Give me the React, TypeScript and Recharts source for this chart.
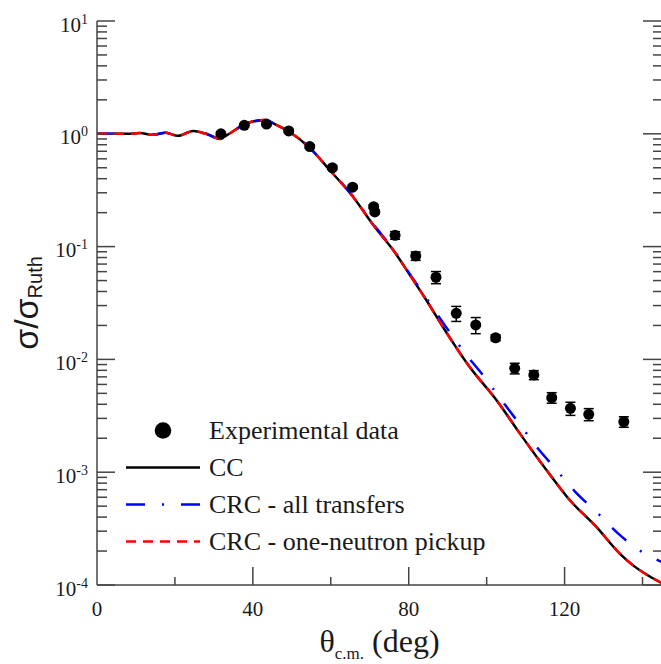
import React from 'react';
import { ComposedChart, Line, Scatter, XAxis, YAxis, ErrorBar, Legend } from 'recharts';

// ---- data ----
const expAngles = [31.8, 37.8, 43.5, 49.2, 54.6, 60.4, 65.6, 71.0, 71.3, 76.5, 81.8, 87.0, 92.2, 97.2, 102.3, 107.2, 112.1, 116.7, 121.5, 126.2, 135.2];
const expValues = [1.0, 1.19, 1.22, 1.06, 0.77, 0.5, 0.336, 0.226, 0.203, 0.126, 0.0826, 0.0535, 0.0256, 0.0202, 0.01556, 0.00834, 0.00728, 0.00458, 0.00368, 0.00326, 0.0028];
const expErrors = [0.03, 0.04, 0.04, 0.03, 0.025, 0.018, 0.012, 0.008, 0.008, 0.0098, 0.0071, 0.0066, 0.0039, 0.0033, 0.00095, 0.0009, 0.00067, 0.00049, 0.00049, 0.0004, 0.0003];

const ccAngles = [0, 4, 8, 11, 14.4, 17.6, 20.8, 24.7, 28, 31.5, 34.5, 37.5, 40.5, 43, 46, 49, 54.6, 59.7, 65.7, 71.3, 76, 80.3, 84.5, 89.2, 95.6, 102.5, 108.5, 115.3, 121.3, 128.1, 134.1, 137.5, 141, 145];
const ccValues = [1.0, 1.0, 1.0, 1.015, 0.98, 1.02, 0.96, 1.06, 1.0, 0.912, 1.03, 1.197, 1.3, 1.325, 1.2, 1.06, 0.75, 0.478, 0.277, 0.149, 0.0933, 0.056, 0.0336, 0.01836, 0.0086, 0.00437, 0.00221, 0.00105, 0.000567, 0.000329, 0.000191, 0.00015, 0.000124, 0.000104];

const crcAllAngles = [0, 4, 8, 11, 14.4, 17.6, 20.8, 24.7, 28, 31.5, 34.5, 37.5, 40.5, 43, 46, 49, 54.6, 59.7, 65.7, 71.3, 76, 80.3, 84.5, 90.3, 94.8, 99, 103.5, 108.5, 112.7, 117.9, 122.8, 128.1, 133.7, 139.4, 145];
const crcAllValues = [1.0, 1.0, 1.0, 1.015, 0.98, 1.02, 0.96, 1.06, 1.0, 0.9, 1.03, 1.19, 1.29, 1.32, 1.2, 1.06, 0.75, 0.48, 0.28, 0.152, 0.095, 0.057, 0.035, 0.01786, 0.01094, 0.00728, 0.0045, 0.00266, 0.0017, 0.00105, 0.000667, 0.000447, 0.000287, 0.000201, 0.00016];

const crcOneAngles = [0, 4, 8, 11, 14.4, 17.6, 20.8, 24.7, 28, 31.5, 34.5, 37.5, 40.5, 43, 46, 49, 54.6, 59.7, 65.7, 71.3, 76, 80.3, 84.5, 89.2, 95.6, 102.5, 108.5, 115.3, 121.3, 128.1, 134.1, 137.5, 141, 145];
const crcOneValues = [1.0, 1.0, 1.0, 1.015, 0.98, 1.02, 0.96, 1.06, 1.0, 0.912, 1.03, 1.197, 1.3, 1.325, 1.2, 1.06, 0.75, 0.478, 0.277, 0.149, 0.0933, 0.056, 0.0336, 0.01836, 0.0086, 0.00437, 0.00221, 0.00105, 0.000567, 0.000329, 0.000191, 0.00015, 0.000124, 0.000104];

const xTicks = [0, 20, 40, 60, 80, 100, 120, 140];
const xLabelTicks = [0, 40, 80, 120];
const topTicks = [1, 2, 3, 4, 5, 6, 7];
const yTicks = [
  0.0001, 0.0002, 0.0003, 0.0004, 0.0005, 0.0006, 0.0007, 0.0008, 0.0009,
  0.001, 0.002, 0.003, 0.004, 0.005, 0.006, 0.007, 0.008, 0.009,
  0.01, 0.02, 0.03, 0.04, 0.05, 0.06, 0.07, 0.08, 0.09,
  0.1, 0.2, 0.3, 0.4, 0.5, 0.6, 0.7, 0.8, 0.9,
  1, 2, 3, 4, 5, 6, 7, 8, 9, 10,
];
const legendLabels = ['Experimental data', 'CC', 'CRC - all transfers', 'CRC - one-neutron pickup'];

const expData = expAngles.map((x, i) => ({ x, y: expValues[i], err: expErrors[i] }));
const ccData = ccAngles.map((x, i) => ({ x, y: ccValues[i] }));
const crcAllData = crcAllAngles.map((x, i) => ({ x, y: crcAllValues[i] }));
const crcOneData = crcOneAngles.map((x, i) => ({ x, y: crcOneValues[i] }));

const SERIF = '"Liberation Serif", "Times New Roman", serif';
const SANS = '"Liberation Sans", Arial, sans-serif';
const AX = '#444';
const TXT = '#1a1a1a';

const isDecade = (v: number) => Math.abs(Math.log10(v) - Math.round(Math.log10(v))) < 1e-6;

function LeftTick(props: any) {
  const { x, y, payload } = props;
  const v = payload.value;
  const major = isDecade(v);
  const e = Math.round(Math.log10(v));
  const ax = x + 9;
  return (
    <g>
      <line x1={ax} x2={ax + (major ? 18 : 10)} y1={y} y2={y} stroke={AX} strokeWidth={1.5} />
      {major && (
        <text x={x} y={y + 10.5} textAnchor="end" fontFamily={SERIF} fontSize={21} fill={TXT}>
          10<tspan fontSize={14} dy={-8}>{e < 0 ? '-' + Math.abs(e) : String(e)}</tspan>
        </text>
      )}
    </g>
  );
}

function RightTick(props: any) {
  const { x, y, payload } = props;
  const major = isDecade(payload.value);
  return <line x1={x - (major ? 19 : 9)} x2={x} y1={y} y2={y} stroke={AX} strokeWidth={1.5} />;
}

function BottomTick(props: any) {
  const { x, y, payload } = props;
  const v = payload.value;
  const major = v % 40 === 0;
  return (
    <g>
      {v !== 0 && <line x1={x} x2={x} y1={y} y2={y - (major ? 18 : 8)} stroke={AX} strokeWidth={1.5} />}
      {xLabelTicks.includes(v) && (
        <text x={x} y={y + 31} textAnchor="middle" fontFamily={SERIF} fontSize={21} fill={TXT}>
          {v}
        </text>
      )}
    </g>
  );
}

function TopTick(props: any) {
  const { x, y, payload } = props;
  const major = payload.value % 2 === 0;
  return <line x1={x} x2={x} y1={y} y2={y + (major ? 19 : 10)} stroke={AX} strokeWidth={1.5} />;
}

function XTitle(props: any) {
  const vb = props.viewBox;
  const cx = vb.x + vb.width / 2;
  return (
    <text x={cx} y={vb.y + 67} textAnchor="middle" fontFamily={SERIF} fontSize={32} fill={TXT}>
      θ<tspan fontSize={17} dy={7}>c.m.</tspan>
      <tspan dy={-7}> (deg)</tspan>
    </text>
  );
}

function YTitle(props: any) {
  const vb = props.viewBox;
  const cy = vb.y + vb.height / 2;
  const cx = 38;
  return (
    <text x={cx} y={cy} transform={`rotate(-90, ${cx}, ${cy})`} textAnchor="middle" fontFamily={SANS} fontSize={34} fill={TXT}>
      σ/σ<tspan fontSize={20} dy={4}>Ruth</tspan>
    </text>
  );
}

function Dot(props: any) {
  const { cx, cy } = props;
  if (cx == null || cy == null) return null;
  return <circle cx={cx} cy={cy} r={5.5} fill="#000" />;
}

function LegendContent() {
  const rowH = 37;
  const sym = [
    <circle key="s0" cx={43} cy={18.5} r={8.3} fill="#000" />,
    <line key="s1" x1={6} x2={80} y1={18.5} y2={18.5} stroke="#000" strokeWidth={2.5} />,
    <line key="s2" x1={6} x2={80} y1={18.5} y2={18.5} stroke="#0000ff" strokeWidth={2.5} strokeDasharray="19 17 2 17" />,
    <line key="s3" x1={6} x2={80} y1={18.5} y2={18.5} stroke="#ff0000" strokeWidth={2.5} strokeDasharray="10 7" />,
  ];
  return (
    <div style={{ fontFamily: SERIF, fontSize: 26, color: TXT, width: 420 }}>
      {legendLabels.map((lab, i) => (
        <div key={lab} style={{ display: 'flex', alignItems: 'center', height: rowH, lineHeight: rowH + 'px', whiteSpace: 'nowrap' }}>
          <svg width={89} height={rowH} style={{ display: 'block', flexShrink: 0 }}>{sym[i]}</svg>
          <span style={{ flexShrink: 0 }}>{lab}</span>
        </div>
      ))}
    </div>
  );
}

export default function App() {
  return (
    <div style={{ position: 'absolute', left: 0, top: 0, width: 661, height: 664, overflow: 'hidden', background: '#fff' }}>
      <ComposedChart width={664} height={664} margin={{ top: 21, right: 0, bottom: 0, left: 0 }}>
        <XAxis
          xAxisId={0}
          type="number"
          dataKey="x"
          domain={[0, 145]}
          allowDataOverflow
          ticks={xTicks}
          interval={0}
          height={79}
          tickSize={0}
          tickMargin={0}
          tickLine={false}
          axisLine={{ stroke: AX, strokeWidth: 1.5 }}
          tick={<BottomTick />}
          label={{ content: <XTitle /> } as any}
        />
        <XAxis
          xAxisId="top"
          orientation="top"
          type="number"
          domain={[0, 8]}
          allowDataOverflow
          ticks={topTicks}
          interval={0}
          height={0}
          tickSize={0}
          tickMargin={0}
          tickLine={false}
          axisLine={{ stroke: AX, strokeWidth: 1.5 }}
          tick={<TopTick />}
        />
        <YAxis
          yAxisId={0}
          scale="log"
          domain={[0.0001, 10]}
          allowDataOverflow
          ticks={yTicks}
          interval={0}
          width={97}
          tickSize={0}
          tickMargin={9}
          tickLine={false}
          axisLine={{ stroke: AX, strokeWidth: 1.5 }}
          tick={<LeftTick />}
          label={{ content: <YTitle /> } as any}
        />
        <YAxis
          yAxisId="right"
          orientation="right"
          scale="log"
          domain={[0.0001, 10]}
          allowDataOverflow
          ticks={yTicks}
          interval={0}
          width={2}
          tickSize={0}
          tickMargin={0}
          tickLine={false}
          axisLine={{ stroke: AX, strokeWidth: 1.5 }}
          tick={<RightTick />}
        />
        <Legend
          layout="vertical"
          align="center"
          verticalAlign="middle"
          wrapperStyle={{ position: 'absolute', left: 120, top: 411.5, width: 420, height: 150 }}
          content={<LegendContent />}
        />
        <Line data={ccData} dataKey="y" type="monotone" stroke="#000" strokeWidth={2.5} dot={false} activeDot={false} isAnimationActive={false} />
        <Line data={crcAllData} dataKey="y" type="monotone" stroke="#0000ff" strokeWidth={2.5} strokeDasharray="19 17 2 17" dot={false} activeDot={false} isAnimationActive={false} />
        <Line data={crcOneData} dataKey="y" type="monotone" stroke="#ff0000" strokeWidth={2.5} strokeDasharray="10 7" dot={false} activeDot={false} isAnimationActive={false} />
        <Scatter data={expData} dataKey="y" fill="#000" shape={<Dot />} isAnimationActive={false}>
          <ErrorBar dataKey="err" direction="y" width={5} stroke="#000" strokeWidth={1.5} />
        </Scatter>
      </ComposedChart>
    </div>
  );
}
